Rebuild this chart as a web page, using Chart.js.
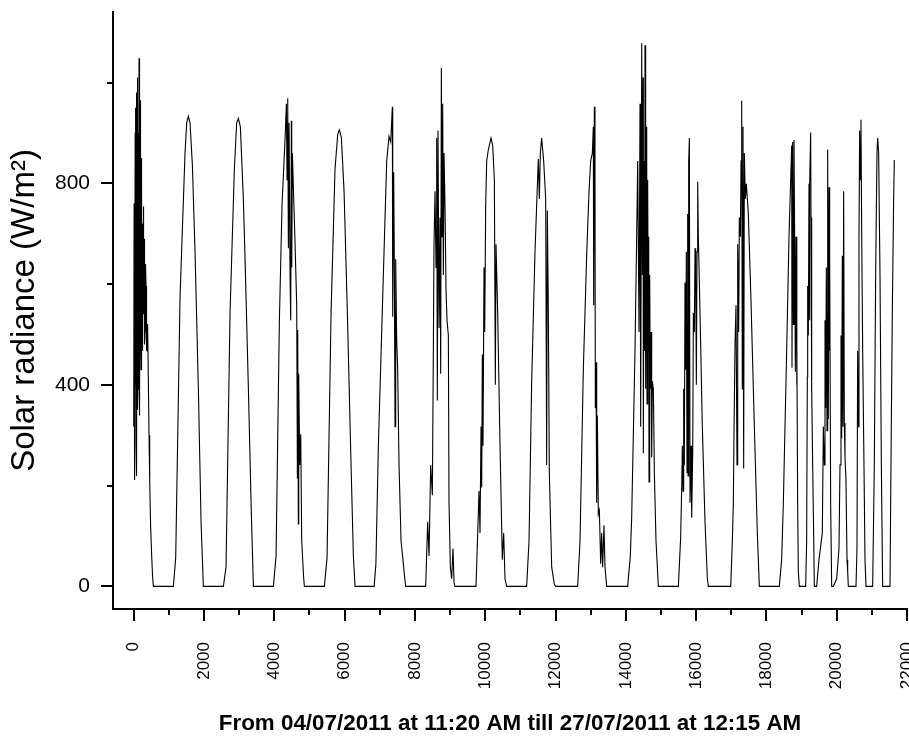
<!DOCTYPE html>
<html>
<head>
<meta charset="utf-8">
<script src="https://cdn.jsdelivr.net/npm/chart.js@4.4.0/dist/chart.umd.min.js"></script>
<style>
  html, body { margin: 0; padding: 0; background: #fff; }
  #wrap { width: 909px; height: 736px; position: relative; }
</style>
</head>
<body>
<div id="wrap"><canvas id="radiance-chart"></canvas></div>
<script>
"use strict";

// sample number (one line per day)
var sampleIndex = [
  0, 10, 20, 28, 40, 50, 56, 66, 76, 84, 94, 103, 112, 122, 132, 140, 151, 160, 170, 180, 189, 198, 208, 218, 227, 236, 246, 256, 265, 274, 285, 295, 302, 312, 321, 335, 350, 365, 378, 395, 416, 435, 454, 480, 511, 535, 559,
  1128, 1194, 1317, 1459, 1507, 1554, 1602, 1668, 1744, 1839, 1915, 1981, 2550,
  2626, 2740, 2863, 2929, 2977, 3034, 3119, 3167, 3262, 3338, 3404, 3973,
  4049, 4144, 4220, 4300, 4343, 4362, 4381, 4400, 4419, 4447, 4466, 4485, 4495, 4514, 4542, 4590, 4637, 4656, 4665, 4684, 4694, 4722, 4751, 4779, 4836, 4855, 5424,
  5500, 5614, 5727, 5803, 5851, 5908, 5984, 6078, 6183, 6249, 6296, 6840,
  6890, 6960, 7102, 7197, 7263, 7311, 7358, 7368, 7396, 7415, 7434, 7453, 7481, 7510, 7548, 7605, 7671, 7700, 7737, 8306,
  8363, 8401, 8449, 8496, 8524, 8543, 8572, 8600, 8619, 8638, 8657, 8686, 8714, 8733, 8752, 8771, 8790, 8809, 8828, 8856, 8885, 8913, 8951, 8970, 9008, 9046, 9084, 9112, 9141, 9738,
  9786, 9824, 9852, 9881, 9900, 9918, 9937, 9966, 9985, 10013, 10042, 10089, 10165, 10213, 10260, 10288, 10307, 10355, 10421, 10487, 10525, 10563, 10610, 11179,
  11246, 11322, 11416, 11511, 11540, 11568, 11606, 11663, 11720, 11748, 11767, 11796, 11824, 11891, 11966, 12004, 12630,
  12697, 12791, 12886, 12953, 13000, 13048, 13076, 13086, 13105, 13123, 13133, 13152, 13171, 13190, 13218, 13247, 13285, 13313, 13341, 13379, 13408, 13455, 14053,
  14128, 14167, 14261, 14309, 14338, 14376, 14404, 14423, 14452, 14471, 14490, 14499, 14518, 14537, 14546, 14565, 14594, 14603, 14622, 14641, 14651, 14660, 14679, 14698, 14717, 14736, 14755, 14784, 14812, 14859, 14926, 15495,
  15561, 15590, 15609, 15628, 15646, 15665, 15684, 15703, 15722, 15741, 15760, 15770, 15789, 15808, 15827, 15855, 15874, 15903, 15922, 15950, 15969, 15988, 16007, 16026, 16045, 16064, 16111, 16177, 16253, 16320, 16348, 16984,
  17031, 17059, 17078, 17107, 17135, 17164, 17183, 17211, 17230, 17259, 17278, 17297, 17315, 17334, 17353, 17372, 17401, 17429, 17486, 17562, 17657, 17742, 17799, 18368,
  18434, 18482, 18576, 18643, 18690, 18719, 18728, 18747, 18766, 18785, 18804, 18823, 18842, 18861, 18870, 18889, 18908, 18937, 19117,
  19145, 19164, 19174, 19193, 19212, 19221, 19240, 19259, 19269, 19288, 19316, 19344, 19363, 19430,
  19496, 19591, 19620, 19648, 19667, 19686, 19705, 19724, 19743, 19762, 19781, 19790, 19809, 19828, 19857, 19904,
  19999, 20065, 20094, 20122, 20141, 20160, 20179, 20198, 20217, 20236, 20264, 20293, 20312, 20331, 20549,
  20577, 20596, 20615, 20634, 20653, 20672, 20691, 20710, 20739, 20776, 20805, 20833, 21023,
  21070, 21108, 21146, 21165, 21193, 21232, 21270, 21307, 21516,
  21544, 21582, 21620, 21639
];

// solar radiance W/m2, same order
var radiance = [
  317, 760, 230, 211, 900, 400, 950, 280, 980, 219, 820, 1010, 350, 392, 900, 520, 1048, 600, 339, 870, 965, 500, 430, 850, 799, 480, 467, 720, 560, 754, 540, 690, 618, 480, 505, 640, 596, 470, 467, 520, 407, 300, 211, 120, 60, 20, 0,
  0, 57, 573, 860, 920, 933, 920, 837, 664, 392, 128, 0, 0,
  38, 543, 829, 920, 929, 912, 769, 650, 392, 166, 0, 0,
  60, 528, 760, 880, 958, 807, 969, 671, 920, 618, 528, 924, 633, 860, 792, 679, 558, 215, 509, 124, 422, 241, 302, 90, 15, 0, 0,
  57, 543, 829, 897, 906, 890, 784, 543, 241, 60, 0, 0,
  45, 279, 618, 844, 893, 882, 952, 535, 822, 626, 317, 649, 490, 430, 241, 90, 45, 23, 0, 0,
  128, 60, 241, 181, 467, 679, 784, 633, 890, 369, 905, 513, 732, 422, 1029, 694, 958, 618, 860, 754, 588, 528, 498, 166, 38, 15, 75, 8, 0, 0,
  106, 189, 106, 317, 196, 460, 279, 633, 505, 754, 844, 867, 890, 875, 807, 400, 679, 543, 279, 53, 106, 15, 0, 0,
  90, 407, 664, 848, 769, 860, 890, 844, 769, 241, 746, 543, 226, 38, 4, 0, 0,
  90, 430, 656, 784, 844, 860, 912, 558, 952, 822, 354, 445, 166, 339, 143, 151, 45, 106, 38, 121, 38, 0, 0,
  60, 136, 467, 694, 844, 505, 958, 317, 1078, 618, 1010, 264, 844, 467, 1074, 392, 912, 362, 807, 467, 694, 207, 618, 392, 505, 256, 407, 392, 226, 90, 0, 0,
  98, 196, 279, 189, 392, 241, 603, 430, 664, 226, 739, 219, 844, 890, 166, 279, 136, 264, 543, 505, 671, 618, 400, 664, 803, 694, 543, 317, 128, 15, 0, 0,
  90, 166, 302, 482, 558, 241, 679, 505, 732, 694, 844, 964, 392, 912, 234, 860, 769, 799, 739, 566, 317, 106, 0, 0,
  53, 166, 467, 694, 807, 875, 434, 882, 520, 886, 694, 426, 694, 400, 482, 166, 30, 0, 0,
  90, 415, 596, 498, 799, 528, 799, 901, 732, 392, 241, 106, 0, 0,
  53, 106, 317, 241, 528, 354, 633, 309, 867, 332, 792, 467, 656, 166, 0, 0,
  15, 75, 241, 498, 294, 656, 317, 784, 324, 256, 211, 53, 30, 0, 0,
  75, 467, 317, 694, 905, 807, 926, 709, 467, 241, 53, 0, 0,
  241, 618, 860, 890, 860, 618, 241, 0, 0,
  241, 543, 769, 846
];

var xMajor = [0, 2000, 4000, 6000, 8000, 10000, 12000, 14000, 16000, 18000, 20000, 22000];
var xMinor = [1000, 3000, 5000, 7000, 9000, 11000, 13000, 15000, 17000, 19000, 21000];
var yMajor = [0, 400, 800];
var yMinor = [200, 600, 1000];

var xTitle = "From 04/07/2011 at 11:20 AM till 27/07/2011 at 12:15 AM";
var yTitle = "Solar radiance (W/m²)";

Chart.defaults.font.family = "Arial, 'Liberation Sans', sans-serif";
Chart.defaults.color = "#000";

var points = sampleIndex.map(function (x, i) {
  return { x: x, y: radiance[i] };
});

// short minor ticks between the labelled ones
var minorTicks = {
  id: "minorTicks",
  afterDraw: function (chart) {
    var ctx = chart.ctx;
    var xs = chart.scales.x;
    var ys = chart.scales.y;
    ctx.save();
    ctx.strokeStyle = "#000";
    ctx.lineWidth = 2;
    ctx.beginPath();
    xMinor.forEach(function (v) {
      var px = Math.round(xs.getPixelForValue(v));
      ctx.moveTo(px, xs.top);
      ctx.lineTo(px, xs.top + 6);
    });
    yMinor.forEach(function (v) {
      var py = Math.round(ys.getPixelForValue(v));
      ctx.moveTo(ys.right, py);
      ctx.lineTo(ys.right - 6, py);
    });
    ctx.stroke();
    ctx.restore();
  },
};

var ctx = document.getElementById("radiance-chart").getContext("2d");

var radianceChart = new Chart(ctx, {
  type: "line",
  data: {
    datasets: [
      {
        label: "radiance",
        data: points,
        borderColor: "#000",
        borderWidth: 1.1,
        pointRadius: 0,
        tension: 0,
        fill: false,
      },
    ],
  },
  options: {
    responsive: true,
    maintainAspectRatio: false,
    animation: false,
    layout: {
      padding: { top: 12, right: 2, left: 0, bottom: 0 },
    },
    plugins: {
      legend: { display: false },
      tooltip: { enabled: false },
    },
    scales: {
      x: {
        type: "linear",
        min: -590,
        max: 22000,
        afterBuildTicks: function (s) {
          s.ticks = xMajor.map(function (v) { return { value: v }; });
        },
        afterFit: function (s) {
          s.height = 127;
          s.paddingLeft = 0;
          s.paddingRight = 0;
        },
        border: { display: true, color: "#000", width: 2 },
        grid: {
          drawOnChartArea: false,
          color: "#000",
          lineWidth: 2,
          tickLength: 12,
        },
        ticks: {
          autoSkip: false,
          minRotation: 90,
          maxRotation: 90,
          padding: 21,
          font: { size: 17 },
          callback: function (value) {
            return String(value);
          },
        },
        title: {
          display: true,
          text: xTitle,
          font: { size: 22.4, weight: "bold", lineHeight: 1 },
          padding: { top: 0, bottom: 1 },
        },
      },
      y: {
        min: -45,
        max: 1140,
        afterBuildTicks: function (s) {
          s.ticks = yMajor.map(function (v) { return { value: v }; });
        },
        afterFit: function (s) {
          s.width = 113;
          s.paddingTop = 0;
          s.paddingBottom = 0;
        },
        border: { display: true, color: "#000", width: 2 },
        grid: {
          drawOnChartArea: false,
          color: "#000",
          lineWidth: 2,
          tickLength: 12,
        },
        ticks: {
          padding: 11,
          font: { size: 21 },
          callback: function (value) {
            return String(value);
          },
        },
        title: {
          display: true,
          text: yTitle,
          font: { size: 33, lineHeight: 1.2 },
          padding: { top: 5, bottom: 0 },
        },
      },
    },
  },
  plugins: [minorTicks],
});
</script>
</body>
</html>
